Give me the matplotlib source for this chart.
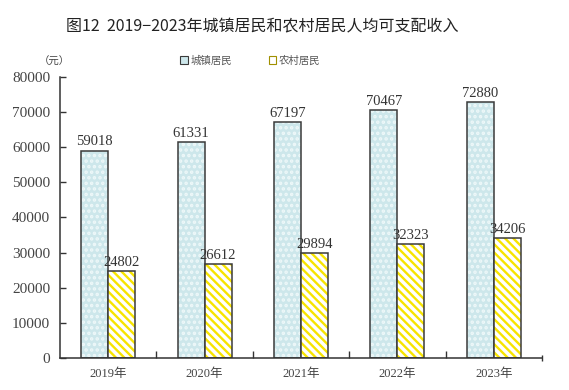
import matplotlib.pyplot as plt
import numpy as np
from matplotlib.patches import Patch

plt.rcParams['font.family'] = ['Liberation Serif', 'Noto Sans CJK SC', 'DejaVu Sans']
plt.rcParams['hatch.linewidth'] = 1.7

years = ['2019年', '2020年', '2021年', '2022年', '2023年']
urban = [59018, 61331, 67197, 70467, 72880]
rural = [24802, 26612, 29894, 32323, 34206]

fig = plt.figure(figsize=(5.69, 3.90), dpi=100)
ax = fig.add_axes([0.1054, 0.082, 0.847, 0.721])

x = np.arange(len(years))
w = 0.28
edge = '#3a3a3a'
blue = '#cde7eb'
yellow = '#f7e400'

# 城镇居民: 浅蓝底白点
ax.bar(x - w / 2, urban, w, color=blue, hatch='...', edgecolor='#eef8f9', linewidth=0)
ax.bar(x - w / 2, urban, w, fill=False, edgecolor=edge, linewidth=1.1)
# 农村居民: 黄色斜纹
ax.bar(x + w / 2, rural, w, color='white', hatch='\\\\\\\\', edgecolor=yellow, linewidth=0)
ax.bar(x + w / 2, rural, w, fill=False, edgecolor=edge, linewidth=1.1)

for i in range(len(years)):
    ax.text(x[i] - w / 2, urban[i] + 600, str(urban[i]), ha='center', va='bottom',
            fontsize=10.5, color='#333333')
    ax.text(x[i] + w / 2, rural[i] + 600, str(rural[i]), ha='center', va='bottom',
            fontsize=10.5, color='#333333')

ax.set_xlim(-0.5, len(years) - 0.5)
ax.set_ylim(0, 80000)
ax.set_yticks(np.arange(0, 80001, 10000))
ax.tick_params(axis='y', direction='in', length=4, labelsize=11, colors='#333333',
               labelcolor='#444444', width=1, pad=7)
ax.set_xticks(x)
ax.set_xticklabels(years, fontsize=9, color='#444444')
ax.tick_params(axis='x', length=0, pad=7)
ax.set_xticks(np.arange(0.5, len(years) - 0.5, 1), minor=True)
ax.tick_params(axis='x', which='minor', direction='in', length=5, width=1, colors='#333333')
ax.plot([1.0], [0], transform=ax.transAxes, marker='|', markersize=5, color='#333333', clip_on=False)

for s in ['top', 'right']:
    ax.spines[s].set_visible(False)
for s in ['left', 'bottom']:
    ax.spines[s].set_color('#333333')
    ax.spines[s].set_linewidth(1.1)

fig.text(0.461, 0.93, '图12  2019−2023年城镇居民和农村居民人均可支配收入', ha='center', va='center',
         fontsize=11.5, family=['Noto Sans CJK SC', 'DejaVu Sans'], color='#222222')
fig.text(0.095, 0.841, '（元）', ha='center', va='center', fontsize=7.5, color='#444444')

handles = [Patch(facecolor=blue, edgecolor=edge, linewidth=0.8),
           Patch(facecolor='white', edgecolor='#a09000', linewidth=0.8)]
fig.legend(handles, ['城镇居民', '农村居民'], loc='center', bbox_to_anchor=(0.44, 0.845),
           ncol=2, frameon=False, fontsize=7.5, handlelength=0.7, handleheight=0.7,
           handletextpad=0.3, columnspacing=3.5, labelcolor='#555555')

fig.savefig('out.png', dpi=100)
